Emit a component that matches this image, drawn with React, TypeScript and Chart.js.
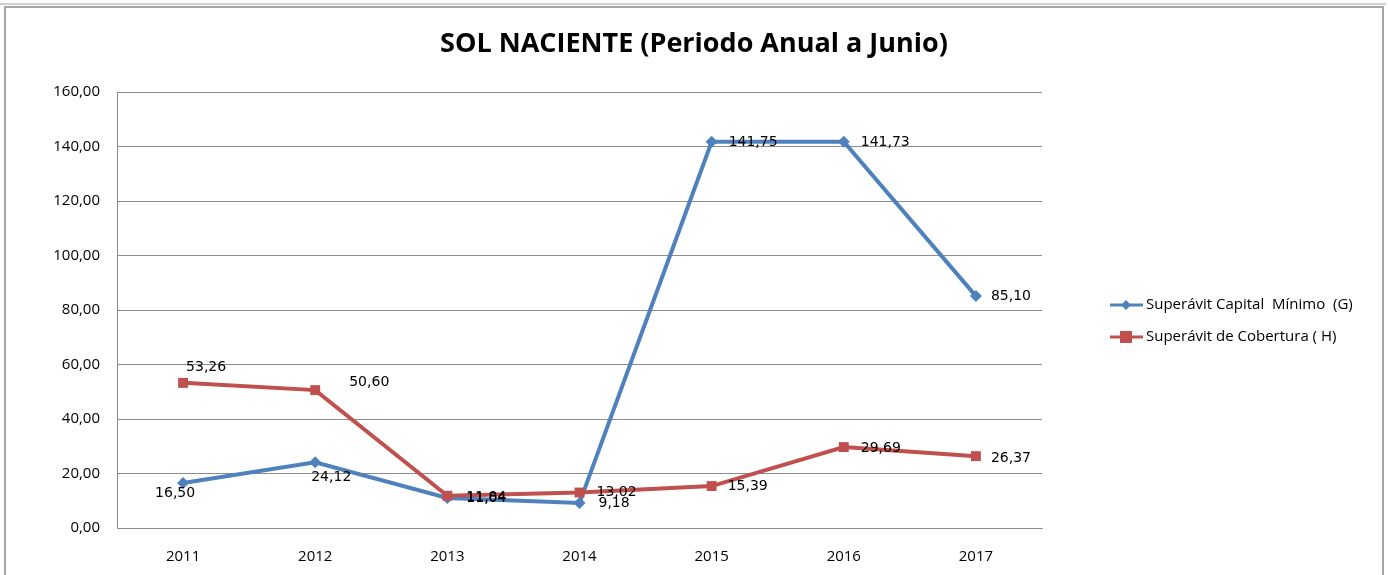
import React, { useEffect, useRef } from "react";
import { Chart, registerables } from "chart.js";

Chart.register(...registerables);

const categories = ["2011", "2012", "2013", "2014", "2015", "2016", "2017"];
const capitalMinimo = [16.5, 24.12, 11.04, 9.18, 141.75, 141.73, 85.1];
const cobertura = [53.26, 50.6, 11.84, 13.02, 15.39, 29.69, 26.37];
const seriesNames = ["Superávit Capital  Mínimo  (G)", "Superávit de Cobertura ( H)"];
const titleText = "SOL NACIENTE (Periodo Anual a Junio)";

// label placement (left edge dx, vertical center dy) relative to each point
const capitalLabelOffsets = [[-28, 10], [-4, 15], [19, 0], [19, 0], [17, 1], [17, 1], [15, 0]];
const coberturaLabelOffsets = [[3, -16], [34, -8], [19, 2], [17, 0], [16, 0], [17, 1], [15, 2]];

const BLUE = "#4F81BD";
const RED = "#C0504D";

const fmt = (v: number) => v.toFixed(2).replace(".", ",");

const decorPlugin = {
  id: "decor",
  beforeDraw(chart: any) {
    const ctx = chart.ctx;
    ctx.save();
    ctx.fillStyle = "#ffffff";
    ctx.fillRect(0, 0, chart.width, chart.height);
    ctx.strokeStyle = "#cfcfcf";
    ctx.lineWidth = 2;
    ctx.beginPath();
    ctx.moveTo(0, 4);
    ctx.lineTo(1386, 4);
    ctx.stroke();
    ctx.strokeStyle = "#a6a6a6";
    ctx.lineWidth = 2;
    ctx.beginPath();
    ctx.moveTo(5, 590);
    ctx.lineTo(5, 7);
    ctx.lineTo(1383, 7);
    ctx.lineTo(1383, 590);
    ctx.stroke();
    // title
    ctx.fillStyle = "#000";
    ctx.font = "bold 27px 'Open Sans'";
    ctx.textAlign = "center";
    ctx.textBaseline = "middle";
    ctx.fillText(titleText, 694, 44);
    ctx.restore();
  },
  afterDatasetsDraw(chart: any) {
    const ctx = chart.ctx;
    ctx.save();
    ctx.font = "14px 'DejaVu Sans'";
    ctx.fillStyle = "#000";
    ctx.textAlign = "left";
    ctx.textBaseline = "middle";
    const offsets = [capitalLabelOffsets, coberturaLabelOffsets];
    chart.data.datasets.forEach((ds: any, di: number) => {
      const meta = chart.getDatasetMeta(di);
      meta.data.forEach((pt: any, i: number) => {
        const [dx, dy] = offsets[di][i];
        ctx.fillText(fmt(ds.data[i]), pt.x + dx, pt.y + dy);
      });
    });
    // legend
    const items = [
      { color: BLUE, style: "rectRot", r: 5, y: 305, text: seriesNames[0] },
      { color: RED, style: "rect", r: 6, y: 337, text: seriesNames[1] },
    ];
    ctx.font = "15px 'Open Sans'";
    items.forEach((it) => {
      ctx.strokeStyle = it.color;
      ctx.lineWidth = 3;
      ctx.beginPath();
      ctx.moveTo(1110, it.y);
      ctx.lineTo(1143, it.y);
      ctx.stroke();
      ctx.fillStyle = it.color;
      const cx = 1126;
      if (it.style === "rect") {
        ctx.fillRect(cx - it.r, it.y - it.r, it.r * 2, it.r * 2);
      } else {
        ctx.beginPath();
        ctx.moveTo(cx, it.y - it.r);
        ctx.lineTo(cx + it.r, it.y);
        ctx.lineTo(cx, it.y + it.r);
        ctx.lineTo(cx - it.r, it.y);
        ctx.closePath();
        ctx.fill();
      }
      ctx.fillStyle = "#000";
      ctx.fillText(it.text, 1146, it.y);
    });
    ctx.restore();
  },
};

export default function App() {
  const ref = useRef<HTMLCanvasElement | null>(null);
  useEffect(() => {
    if (!ref.current) return;
    const chart = new Chart(ref.current, {
      type: "line",
      data: {
        labels: categories,
        datasets: [
          {
            label: seriesNames[0],
            data: capitalMinimo,
            borderColor: BLUE,
            backgroundColor: BLUE,
            borderWidth: 4,
            pointStyle: "rectRot",
            pointRadius: 6,
            pointBorderWidth: 0,
            tension: 0,
            order: 1,
          },
          {
            label: seriesNames[1],
            data: cobertura,
            borderColor: RED,
            backgroundColor: RED,
            borderWidth: 4,
            pointStyle: "rect",
            pointRadius: 7,
            pointBorderWidth: 0,
            tension: 0,
            order: 0,
          },
        ],
      },
      options: {
        responsive: false,
        animation: false,
        layout: { padding: { left: 0, top: 92, right: 346, bottom: 0 } },
        plugins: { legend: { display: false }, tooltip: { enabled: false }, title: { display: false } },
        scales: {
          x: {
            offset: true,
            grid: { display: false, drawTicks: false },
            border: { display: true, color: "#8c8c8c", width: 1 },
            ticks: { padding: 20, color: "#000", font: { family: "'Open Sans'", size: 15 } },
            afterFit: (s: any) => { s.height = 47; },
          },
          y: {
            min: 0,
            max: 160,
            grid: { color: "#8c8c8c", lineWidth: 1, drawTicks: false },
            border: { display: true, color: "#8c8c8c", width: 1 },
            ticks: {
              stepSize: 20,
              padding: 17,
              color: "#000",
              font: { family: "'Open Sans'", size: 15 },
              callback: (v: any) => fmt(Number(v)),
            },
            afterFit: (s: any) => { s.width = 117; },
          },
        },
      },
      plugins: [decorPlugin],
    });
    return () => chart.destroy();
  }, []);
  return (
    <div style={{ position: "fixed", left: 0, top: 0, width: 1388, height: 575 }}>
      <canvas ref={ref} width={1388} height={575} />
    </div>
  );
}
